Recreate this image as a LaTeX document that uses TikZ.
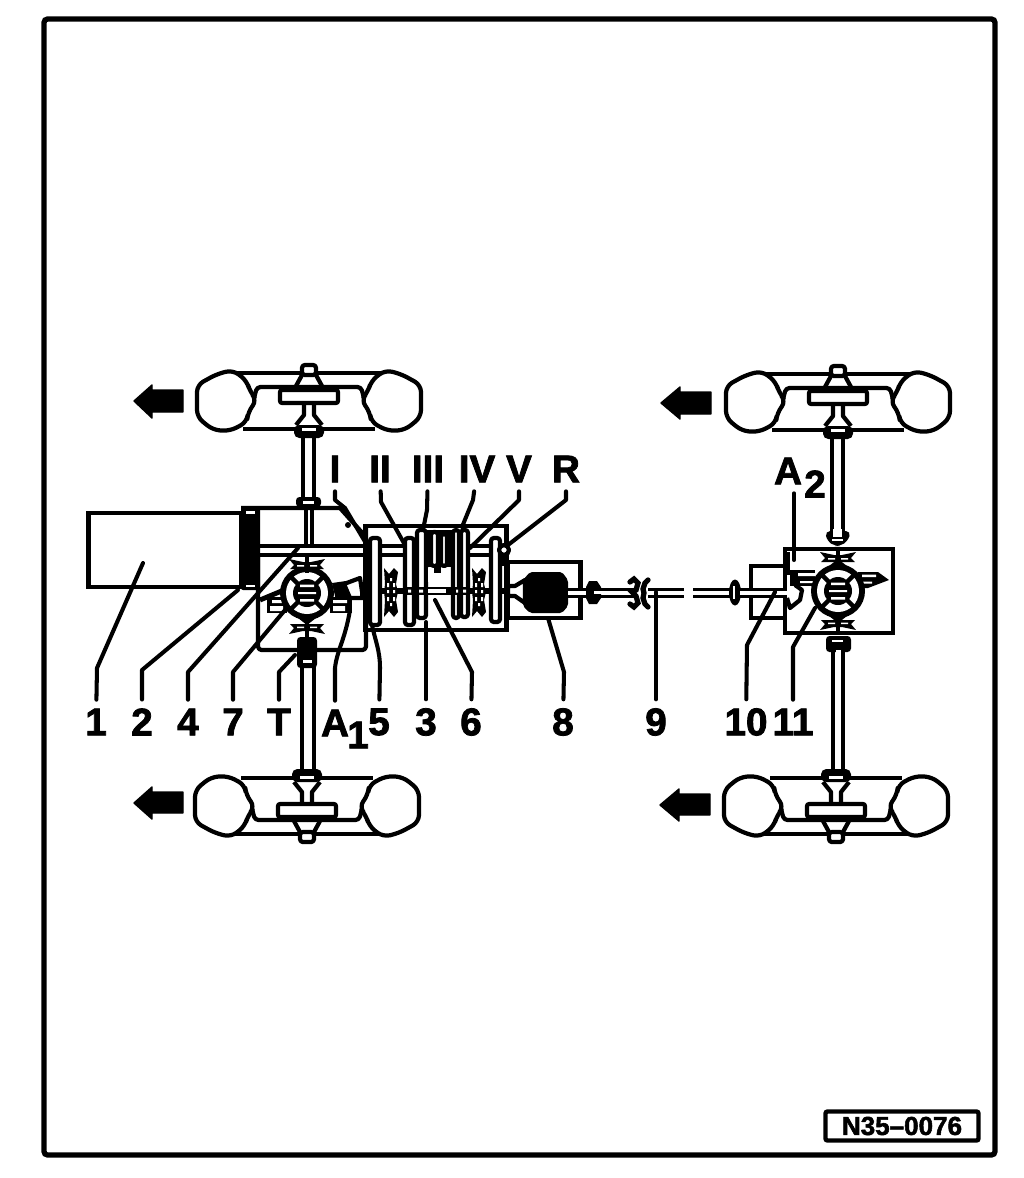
\documentclass[tikz,border=0pt]{standalone}
\usepackage{fontspec}
\setmainfont{Liberation Sans}[BoldFeatures={FakeBold=2}]
\usetikzlibrary{calc}
\tikzset{
  x=0.01cm,y=-0.01cm,
  ln/.style={line width=1.2pt,draw=black,line join=round},
  thin ln/.style={line width=0.9pt,draw=black,line join=round},
  leader/.style={line width=1.15pt,draw=black,line join=round,line cap=round},
  lab/.style={font=\bfseries\fontsize{11}{11}\selectfont,inner sep=0pt,outer sep=0.09cm,text=black},
  sub/.style={font=\bfseries\fontsize{11}{11}\selectfont,inner sep=0pt,text=black},
  blockarrow/.style={fill=black,draw=black,line width=0.4pt,line join=round},
  bar/.style={ln,fill=white,rounded corners=0.8pt},
  wheel/.pic={
    \foreach \s in {1,-1}{
      \begin{scope}[xscale=\s]
      \draw[ln,rounded corners=2pt] (-112,-16)--(-92,-27)--(-76,-31)--(-62,-20)--(-59,-9)--(-52,-1)--(-61,11)--(-62,21)--(-79,30)--(-96,29)--(-112,16)--cycle;
      \draw[ln,rounded corners=1pt] (-55,-3)--(-52,-14)--(0,-14);
      \draw[ln] (-5,2)--(-5,14)--(-13,24);
      \draw[ln] (-7,-26)--(-13,-15);
      \end{scope}}
    \draw[thin ln] (-72,-28)--(72,-28) (-66,28)--(66,28);
    \draw[ln,fill=white,rounded corners=0.6pt] (-29,-11) rectangle (29,2);
    \draw[ln,fill=white,rounded corners=0.8pt] (-7,-36) rectangle (7,-26);
    \fill[black,rounded corners=1.5pt] (-15,24) rectangle (15,37);
    \fill[white] (-7,27) rectangle (7,30);
  },
  diff/.pic={
    \fill[black] (0,0) circle (27);
    \fill[black] (-9,-25)--(0,-32)--(9,-25)--cycle (-9,25)--(0,32)--(9,25)--cycle;
    \fill[white] (0,0) circle (21);
    \draw[black,line width=1.3pt] (-18,-18)--(18,18) (-18,18)--(18,-18);
    \fill[black] (0,0) circle (14);
    \fill[white] (-7,-8.5) rectangle (7,-6) (-9,-1) rectangle (9,1) (-7,6) rectangle (7,8.5);
  },
  xbearing/.pic={
    \fill[black] (-18,-5)--(-4,-2)--(4,-2)--(18,-5)--(13,1)--(17,5)--(-17,5)--(-13,1)--cycle;
    \fill[white] (-10,1) rectangle (-3,2.5) (3,1) rectangle (10,2.5);
    \draw[line width=0.9pt] (0,-8)--(0,9);
  },
  gearlump/.pic={
    \fill[black] (-7,-24)--(-2,-18)--(3,-24)--(7,-20)--(5,-8)--(7,0)--(5,8)--(7,20)--(3,25)--(-2,19)--(-7,25)--(-6,8)--(-7,0)--(-6,-8)--cycle;
    \fill[white] (-4,-9) rectangle (-2,-5) (2,-9) rectangle (4,-5) (-4,-2) rectangle (-2,1) (2,-2) rectangle (4,1) (-4,5) rectangle (-2,9) (2,5) rectangle (4,9) (-1,-14) rectangle (1,-11) (-1,11) rectangle (1,14);
  }
}
\newcommand{\tube}[3]{%
  \fill[black] (#1,#3-5) rectangle (#2,#3+5);
  \fill[white] (#1,#3-2) rectangle (#2,#3+2);}
\begin{document}
\begin{tikzpicture}
\useasboundingbox (0,0) rectangle (1024,1178);
\fill[white] (0,0) rectangle (1024,1178);
% frame and stamp
\draw[line width=1.5pt,rounded corners=1pt] (44,19) rectangle (995,1155);
\node[draw=black,line width=1.25pt,rounded corners=0.6pt,minimum width=1.53cm,minimum height=0.29cm,inner sep=0pt,font=\bfseries\fontsize{7.4}{7.4}\selectfont] (stamp) at (902,1126) {N35–0076};

% wheels
\path (309,401) pic {wheel};
\path (307,806) pic[yscale=-1] {wheel};
\path (838,402) pic {wheel};
\path (836,806) pic[yscale=-1] {wheel};

% direction arrows
\fill[blockarrow] (183,390)--(152,390)--(152,385)--(134,401)--(152,418)--(152,412)--(183,412)--cycle;
\fill[blockarrow] (183,792)--(152,792)--(152,787)--(134,803)--(152,819)--(152,813)--(183,813)--cycle;
\fill[blockarrow] (711,392)--(680,392)--(680,387)--(661,403)--(680,419)--(680,414)--(711,414)--cycle;
\fill[blockarrow] (710,794)--(679,794)--(679,789)--(660,805)--(679,821)--(679,815)--(710,815)--cycle;

% engine
\node[draw=black,line width=1.3pt,minimum width=1.53cm,minimum height=0.74cm,inner sep=0pt] (engine) at (165,550) {};
% clutch block
\fill[black,rounded corners=0.6pt] (241,507) rectangle (260,590);
\fill[white] (246,511) rectangle (255,514);
\fill[white] (246,585) rectangle (255,587);

% front case
\draw[ln] (241,508)--(340,508)--(366,537);
\draw[ln,rounded corners=1pt] (258,557)--(258,650)--(366,650)--(366,526);
% left axle
\draw[ln] (303,437)--(303,497) (314,437)--(314,497);
\fill[black,rounded corners=1pt] (296,497) rectangle (321,507);
\fill[white] (303,501) rectangle (314,504);
\draw[thin ln] (306,507)--(306,545) (312,507)--(312,545);
\draw[ln] (302,665)--(302,772) (314,665)--(314,772);
\fill[black,rounded corners=1pt] (297,637) rectangle (317,668);
\fill[white] (303,660) rectangle (312,663);
% main input shaft
\draw[line width=1.1pt] (258,546)--(500,546) (258,555)--(500,555);

% front differential
\draw[line width=1.4pt] (260,600)--(284,590);
\fill[black] (267,597) rectangle (287,613);
\fill[black] (330,597) rectangle (352,613);
\fill[white] (272,600) rectangle (284,603) (270,606) rectangle (283,611);
\fill[white] (333,600) rectangle (347,603) (333,606) rectangle (345,611);
\path (307,593) pic {diff};
\path (307,564) pic {xbearing};
\path (307,629) pic[yscale=-1] {xbearing};
\fill[black] (332,583)--(346,581)--(350,598)--(336,600)--cycle;
\draw[ln,fill=white] (344,584)--(360,578)--(363,598)--(350,598)--cycle;
\fill[black] (360,586) rectangle (372,598);

% gearbox
\node[draw=black,line width=1.3pt,minimum width=1.41cm,minimum height=1.04cm,inner sep=0pt] (gearbox) at (436,578) {};
\fill[black] (427,530) rectangle (468,567);
\draw[line width=1.5pt] (366,591)--(505,591);
\draw[bar] (370,538) rectangle (380,625);
\draw[bar] (405,538) rectangle (414,625);
\draw[bar] (417,530) rectangle (426,618);
\draw[bar] (431,532) rectangle (438,566);
\draw[bar] (441,534) rectangle (447,566);
\draw[bar] (453,530) rectangle (459,618);
\draw[bar] (461,530) rectangle (468,617);
\draw[bar] (491,538) rectangle (500,622);
\fill[black] (500,556) rectangle (507,566);
\path (391,592) pic {gearlump};
\path (479,592) pic {gearlump};
\fill[white] (428,568) rectangle (447,582);
\fill[black] (434,567) rectangle (441,573);
\draw[line width=2.3pt] (405,591)--(470,591);
\fill[white] (428,588.5) rectangle (446,593);
\fill[white] (408,589.5) rectangle (411,592.5) (419,589.5) rectangle (423,592.5) (456,589.5) rectangle (458,592.5) (463,589.5) rectangle (466,592.5);
\draw[ln,fill=white] (504,550) circle (5);

% output housing and motor
\node[draw=black,line width=1.3pt,minimum width=0.73cm,minimum height=0.56cm,inner sep=0pt] (housing) at (544,590) {};
\draw[ln,fill=white] (525,580)--(515,586)--(508,586)--(508,596)--(515,596)--(525,603)--cycle;
\fill[black,rounded corners=0.6pt] (523,580)--(530,572)--(562,572)--(568,580)--(568,606)--(562,613)--(530,613)--(523,606)--cycle;
\tube{568}{638}{592.5}
\fill[black] (589,581)--(597,581)--(601,587)--(601,598)--(597,604)--(589,604)--(586,598)--(586,587)--cycle;
\fill[white] (594,591) rectangle (610,594);

% coupling
\draw[line width=1.5pt,line cap=round] (630,582)--(634,579)--(638,583)--(636,590)--(632,592)--(636,596)--(638,603)--(634,607)--(630,604);
\draw[line width=1.5pt,line cap=round] (648,580)--(645,583)--(643,589)--(644,593)--(643,598)--(645,604)--(648,607);
% prop shaft
\tube{648}{684}{593}
\tube{693}{730}{593}
\fill[black] (735,592.5) ellipse (6 and 13);
\fill[white] (733,586) rectangle (735,599);

% rear final drive
\node[draw=black,line width=1.2pt,minimum width=0.34cm,minimum height=0.52cm,inner sep=0pt] (pinion) at (768,592) {};
\node[draw=black,line width=1.3pt,fill=white,minimum width=1.08cm,minimum height=0.84cm,inner sep=0pt] (rearbox) at (839,591) {};
\tube{740}{787}{592.5}
\draw[ln] (787,598)--(790,608)--(800,600)--(802,590)--(795,585);
\fill[black] (790,570) rectangle (815,586);
\fill[white] (798,573) rectangle (815,576) (800,581) rectangle (815,583);
\fill[black] (858,572)--(878,572)--(889,580)--(868,588)--(858,588)--cycle;
\fill[white] (862,574.5) rectangle (876,577) (862,581.5) rectangle (872,583.5);
\draw[ln] (788,552)--(788,575);
\path (838,591) pic {diff};
\path (838,557) pic {xbearing};
\path (838,625) pic[yscale=-1] {xbearing};
% rear axles
\draw[ln] (832,438)--(832,532) (843,438)--(843,532);
\fill[black,rounded corners=1.5pt] (825,531) -- (851,531) -- (848,541) -- (840,546) -- (835,546) -- (827,541) -- cycle;
\fill[white] (833,529) rectangle (842,537);
\fill[white] (832,539) rectangle (843,541);
\fill[black,rounded corners=1pt] (826,636) rectangle (851,652);
\fill[white] (832,640) rectangle (843,642);
\draw[ln] (833,652)--(833,772) (843,652)--(843,772);
\fill[white] (835.5,650) rectangle (840.5,654);

% labels
\node[lab] (l1) at (96,722) {1};
\node[lab] (l2) at (142,722) {2};
\node[lab] (l4) at (188,722) {4};
\node[lab] (l7) at (233,722) {7};
\node[lab] (lT) at (279,722) {T};
\node[lab] (lA) at (335,723) {A};
\node[sub] (lAs) at (358,735) {1};
\node[lab] (l5) at (379,722) {5};
\node[lab] (l3) at (426,722) {3};
\node[lab] (l6) at (471,722) {6};
\node[lab] (l8) at (563,722) {8};
\node[lab] (l9) at (656,722) {9};
\node[lab] (l10) at (746,722) {10};
\node[lab] (l11) at (793,722) {11};
\node[lab] (ti) at (335,469) {I};
\node[lab] (tii) at (380,469) {II};
\node[lab] (tiii) at (428,469) {III};
\node[lab] (tiv) at (477,469) {IV};
\node[lab] (tv) at (519,469) {V};
\node[lab] (tr) at (566,469) {R};
\node[lab] (tA) at (788,471) {A};
\node[sub] (tAs) at (815,484) {2};

% leader ends
\coordinate (e1) at (143,563);
\coordinate (e2) at (238,590);
\coordinate (e4) at (298,548);
\coordinate (e7) at (285,610);
\coordinate (eT) at (295,655);
\coordinate (eA) at (350,610);
\coordinate (e5) at (372,625);
\coordinate (e3) at (426,622);
\coordinate (e6) at (435,600);
\coordinate (e8) at (548,618);
\coordinate (e9) at (656,592);
\coordinate (e10) at (775,592);
\coordinate (e11) at (815,608);
\coordinate (fi) at (367,545);
\coordinate (fii) at (405,545);
\coordinate (fiii) at (423,530);
\coordinate (fiv) at (462,527);
\coordinate (fv) at (470,548);
\coordinate (fr) at (508,545);
\coordinate (fA) at (794,560);

% leaders
\draw[leader] (l1) -- (97,668) -- (e1);
\draw[leader] (l2) -- (142,670) -- (e2);
\draw[leader] (l4) -- (188,672) -- (e4);
\draw[leader] (l7) -- (233,672) -- (e7);
\draw[leader] (lT) -- (279,672) -- (eT);
\draw[leader] (lA) -- (335,668) .. controls (337,650) and (345,640) .. (eA);
\draw[leader] (l5) -- (380,668) .. controls (380,650) and (375,640) .. (e5);
\draw[leader] (l3) -- (e3);
\draw[leader] (l6) -- (472,672) -- (e6);
\draw[leader] (l8) -- (564,672) -- (e8);
\draw[leader] (l9) -- (e9);
\draw[leader] (l10) -- (747,645) -- (e10);
\draw[leader] (l11) -- (793,647) -- (e11);
\draw[leader] (ti) -- (335,500) -- (345,508) -- (fi);
\fill[black] (348,525) circle (3);
\draw[leader] (tii) -- (381,502) -- (fii);
\draw[leader] (tiii) -- (427,510) -- (fiii);
\draw[leader] (tiv) -- (473,500) -- (fiv);
\draw[leader] (tv) -- (519,500) -- (fv);
\draw[leader] (tr) -- (566,500) -- (fr);
\draw[leader] (tA.south -| fA) -- (fA);
\end{tikzpicture}
\end{document}
